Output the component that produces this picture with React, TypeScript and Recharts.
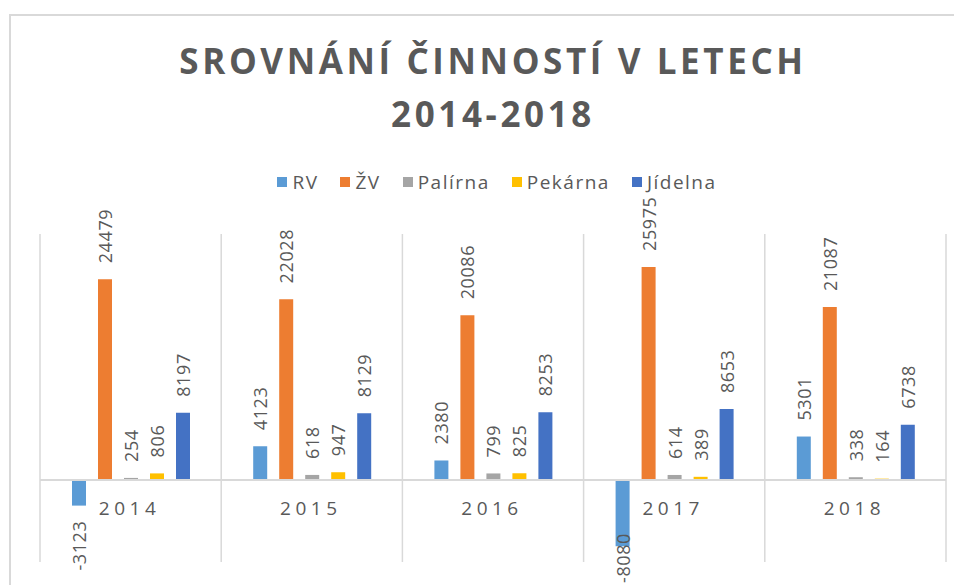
import React from 'react';
import { BarChart, Bar, XAxis, YAxis, CartesianGrid, ReferenceLine, LabelList, Legend } from 'recharts';

const categories = ['2014', '2015', '2016', '2017', '2018'];
const rvValues = [-3123, 4123, 2380, -8080, 5301];
const zvValues = [24479, 22028, 20086, 25975, 21087];
const palirnaValues = [254, 618, 799, 614, 338];
const pekarnaValues = [806, 947, 825, 389, 164];
const jidelnaValues = [8197, 8129, 8253, 8653, 6738];

const seriesKeys = ['rv', 'zv', 'palirna', 'pekarna', 'jidelna'];
const seriesNames = ['RV', 'ŽV', 'Palírna', 'Pekárna', 'Jídelna'];
const seriesColors = ['#5B9BD5', '#ED7D31', '#A5A5A5', '#FFC000', '#4472C4'];
const titleLines = ['SROVNÁNÍ ČINNOSTÍ V LETECH', '2014-2018'];
const yDomain = [-10000, 30000];

const data = categories.map((year, i) => ({
  year,
  rv: rvValues[i],
  zv: zvValues[i],
  palirna: palirnaValues[i],
  pekarna: pekarnaValues[i],
  jidelna: jidelnaValues[i],
}));

const FONT = '"Open Sans", sans-serif';
const TEXT = '#595959';
const GRID = '#D9D9D9';

const W = 954;
const H = 577;
const LABEL_FS = 18;
const LABEL_LS = 0.6;
const CHAR_W = 10.9;

const ValueLabel = (props: any) => {
  const { x, y, width, height, value } = props;
  const cx = Number(x) + Number(width) / 2;
  const y1 = Number(y);
  const y2 = Number(y) + Number(height);
  const top = Math.min(y1, y2);
  const bottom = Math.max(y1, y2);
  const text = String(value);
  const common = {
    fill: TEXT,
    fontSize: LABEL_FS,
    fontFamily: FONT,
    letterSpacing: LABEL_LS,
    dominantBaseline: 'central' as const,
  };
  if (value >= 0) {
    const py = top - 16;
    return (
      <text x={cx} y={py} transform={`rotate(-90 ${cx} ${py})`} textAnchor="start" {...common}>
        {text}
      </text>
    );
  }
  const len = text.length * CHAR_W;
  const limit = 575;
  const py = bottom + 15;
  if (py + len > limit) {
    return (
      <text x={cx} y={limit} transform={`rotate(-90 ${cx} ${limit})`} textAnchor="start" {...common}>
        {text}
      </text>
    );
  }
  return (
    <text x={cx} y={py} transform={`rotate(-90 ${cx} ${py})`} textAnchor="end" {...common}>
      {text}
    </text>
  );
};

const YearTick = (props: any) => {
  const { x, y, payload } = props;
  return (
    <text
      x={x - 1}
      y={y - 47}
      textAnchor="middle"
      fill={TEXT}
      fontSize={19}
      fontFamily={FONT}
      letterSpacing={4.5}
    >
      {payload.value}
    </text>
  );
};

const LegendContent = () => (
  <div
    style={{
      display: 'flex',
      justifyContent: 'center',
      alignItems: 'center',
      gap: 22,
      paddingLeft: 24,
      fontFamily: FONT,
      fontSize: 19,
      letterSpacing: 1.5,
      color: TEXT,
      lineHeight: '24px',
    }}
  >
    {seriesNames.map((n, i) => (
      <div key={n} style={{ display: 'flex', alignItems: 'center' }}>
        <span
          style={{
            display: 'inline-block',
            width: 10,
            height: 10,
            background: seriesColors[i],
            marginRight: 5,
          }}
        />
        <span>{n}</span>
      </div>
    ))}
  </div>
);

export default function App() {
  return (
    <div
      style={{
        position: 'relative',
        width: W,
        height: H,
        overflow: 'hidden',
        fontFamily: FONT,
        background: '#fff',
      }}
    >
      <div
        style={{
          position: 'absolute',
          left: 1,
          top: 6,
          width: 1100,
          height: 800,
          border: `2px solid ${GRID}`,
          boxSizing: 'border-box',
        }}
      />
      <div
        style={{
          position: 'absolute',
          left: 0,
          top: 26,
          width: 970,
          textAlign: 'center',
          fontSize: 35,
          lineHeight: '53px',
          fontWeight: 700,
          letterSpacing: 3.6,
          color: TEXT,
        }}
      >
        {titleLines.map((l) => (
          <div key={l}>{l}</div>
        ))}
      </div>
      <div style={{ position: 'absolute', left: 0, top: 0 }}>
        <BarChart
          width={W}
          height={H}
          data={data}
          margin={{ top: 226, right: 16, bottom: 0, left: 32 }}
          barSize={14}
          barGap={12}
        >
          <CartesianGrid
            horizontal={false}
            stroke={GRID}
            strokeWidth={1.5}
            verticalCoordinatesGenerator={(args: any) => {
              const off = args.offset;
              return categories
                .map((_, i) => off.left + (i * off.width) / categories.length)
                .concat([off.left + off.width]);
            }}
          />
          <XAxis
            dataKey="year"
            axisLine={false}
            tickLine={false}
            tickSize={0}
            tickMargin={0}
            height={23}
            interval={0}
            tick={<YearTick />}
          />
          <YAxis hide domain={yDomain} allowDataOverflow />
          <ReferenceLine y={0} stroke={GRID} strokeWidth={2} />
          <Legend
            layout="horizontal"
            verticalAlign="middle"
            align="center"
            content={<LegendContent />}
            wrapperStyle={{ top: 162, left: 0, width: W }}
          />
          {seriesKeys.map((k, i) => (
            <Bar
              key={k}
              dataKey={k}
              name={seriesNames[i]}
              fill={seriesColors[i]}
              isAnimationActive={false}
            >
              <LabelList dataKey={k} content={<ValueLabel />} />
            </Bar>
          ))}
        </BarChart>
      </div>
    </div>
  );
}
